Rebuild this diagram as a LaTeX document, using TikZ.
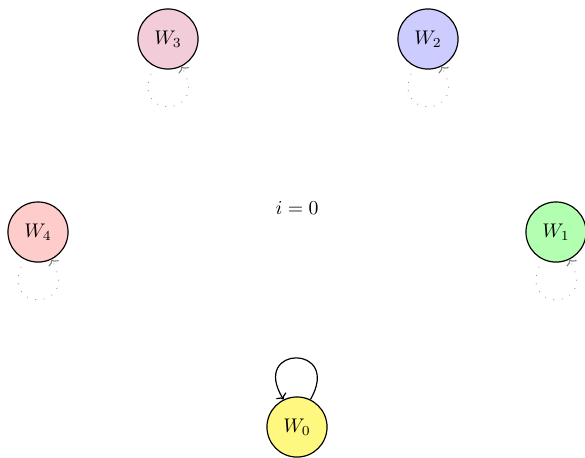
\documentclass[tikz,border=0pt]{standalone}
\usetikzlibrary{arrows.meta}
\begin{document}
\begin{tikzpicture}[x=0.0178cm,y=-0.0178cm,
  world/.style={circle,draw,line width=0.6pt,minimum size=1.07cm,inner sep=0pt},
  dloop/.style={gray,-{To[length=2.5pt,width=6pt]},line width=0.55pt,dash pattern=on 0.01pt off 4.3pt,line cap=round},
  sloop/.style={-{To[length=2.5pt,width=6pt]},line width=0.6pt}]
\useasboundingbox (0,0) rectangle (585,457);
\node[world,fill=yellow!50] (w0) at (297,427) {$W_0$};
\node[world,fill=green!30] (w1) at (556,232) {$W_1$};
\node[world,fill=blue!20] (w2) at (428,39) {$W_2$};
\node[world,fill=purple!20] (w3) at (168,39) {$W_3$};
\node[world,fill=red!20] (w4) at (38,232) {$W_4$};
\node (c) at (297,208) {$i = 0$};
\draw[sloop] (w0.64) .. controls +(60:1.15cm) and +(122:1.15cm) .. (w0.116);
\foreach \n in {w1,w2,w3,w4}{
  \draw[dloop] (\n.-116) .. controls +(-120:1.1cm) and +(-60:1.1cm) .. (\n.-64);
}
\end{tikzpicture}
\end{document}
